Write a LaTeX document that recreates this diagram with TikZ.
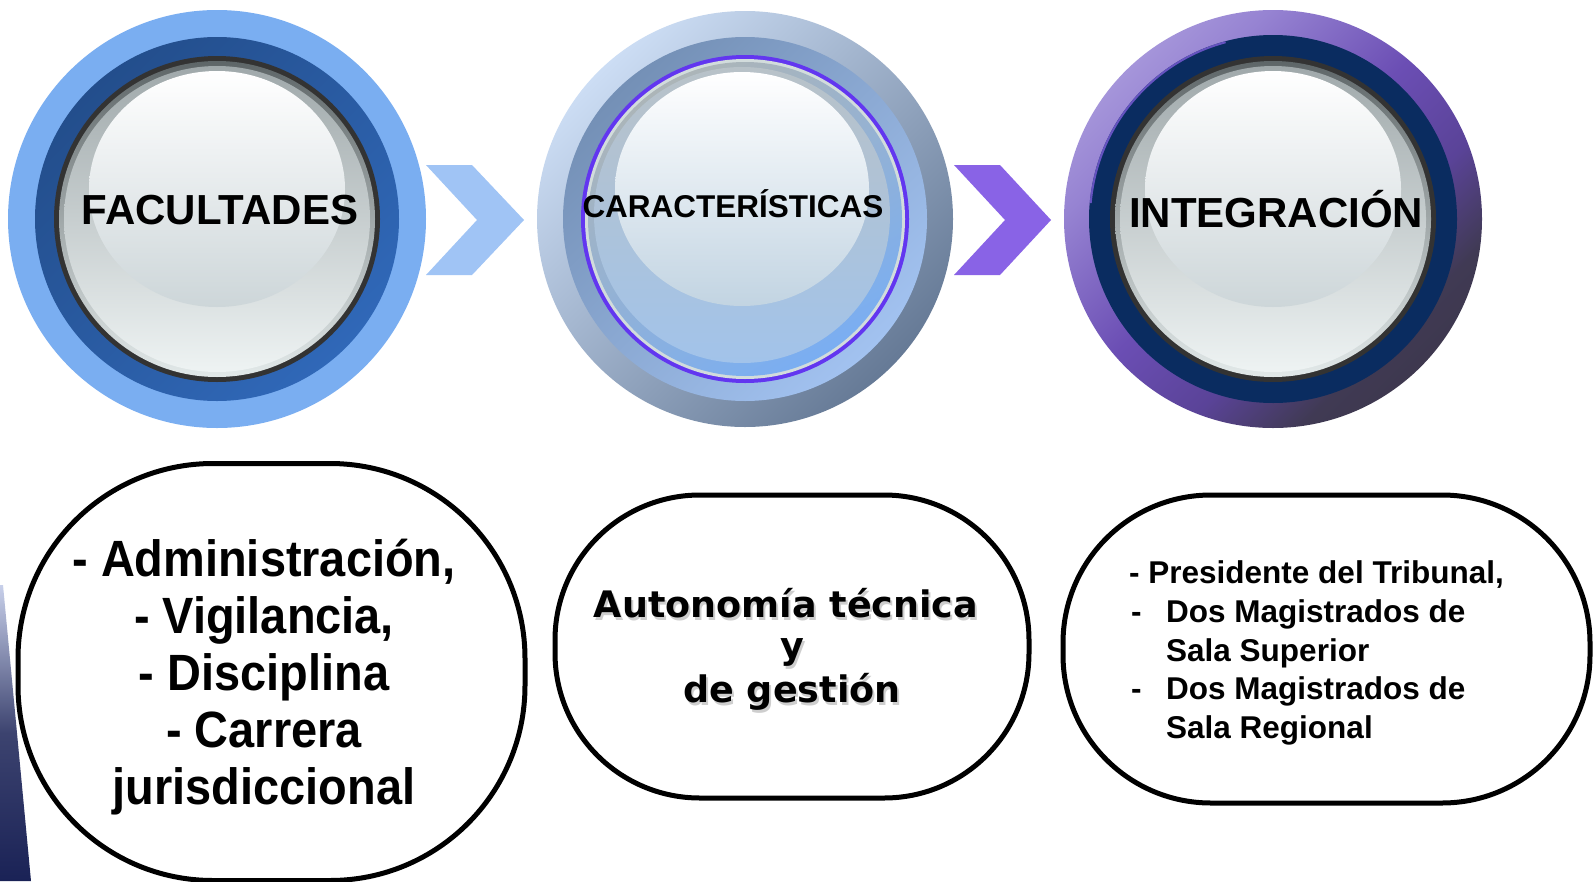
\documentclass[tikz,border=0pt]{standalone}
\usepackage{fontspec}
\setmainfont{Liberation Sans}
\newfontfamily\dejavu{DejaVu Sans}
\newfontfamily\narrowsans[FakeStretch=0.92]{Liberation Sans}
\definecolor{bluelight}{HTML}{7AAEF1}
\definecolor{ringAtl}{HTML}{234E8C}
\definecolor{ringAbr}{HTML}{3068B8}
\definecolor{chevA}{HTML}{A0C4F5}
\definecolor{chevB}{HTML}{8963E6}
\definecolor{outBtl}{HTML}{CCDDF4}
\definecolor{outBbr}{HTML}{667A96}
\definecolor{ringBtl}{HTML}{7490B6}
\definecolor{ringBbr}{HTML}{A2C2F0}
\definecolor{purpline}{HTML}{6236F0}
\definecolor{silverB}{HTML}{D2DCDC}
\definecolor{rimBtop}{HTML}{ACB5B8}
\definecolor{rimBbot}{HTML}{7AAEF2}
\definecolor{discBtop}{HTML}{B8C2C8}
\definecolor{discBbot}{HTML}{A2C3EA}
\definecolor{hlBbot}{HTML}{C2D4E2}
\definecolor{pc0}{HTML}{3A3546}
\definecolor{pc1}{HTML}{403A54}
\definecolor{pc2}{HTML}{5A4398}
\definecolor{pc3}{HTML}{6B4EB4}
\definecolor{pc4}{HTML}{9683D2}
\definecolor{pc5}{HTML}{B8ACE4}
\pgfdeclareverticalshading{purpC}{100bp}{color(0bp)=(pc0); color(17bp)=(pc0); color(30bp)=(pc1); color(40bp)=(pc2); color(52bp)=(pc3); color(68bp)=(pc4); color(84bp)=(pc5); color(100bp)=(pc5)}
\definecolor{navyC}{HTML}{0A2C60}
\definecolor{edgeC}{HTML}{7C5CD8}
\definecolor{darkring}{HTML}{333333}
\definecolor{rimdark}{HTML}{5E6668}
\definecolor{rimlight}{HTML}{E2E9E9}
\definecolor{disctop}{HTML}{A0A9AB}
\definecolor{discmid}{HTML}{CBD3D6}
\definecolor{discbot}{HTML}{EEF3F3}
\definecolor{hlbot}{HTML}{CDD6D9}
\definecolor{strip}{HTML}{1A2256}
\definecolor{striptop}{HTML}{C8D0EA}
\tikzset{
  glossy/.pic={
    \fill[darkring] (0,0) circle (163);
    \shade[top color=rimdark, bottom color=rimlight] (0,0) circle (158);
    \shade[top color=disctop, middle color=discmid, bottom color=discbot] (0,0) circle (153);
    \shade[top color=white, bottom color=hlbot] (0,-30) ellipse (128 and 118);
  },
  ttl/.style={anchor=base, font=\bfseries\fontsize{42}{42}\selectfont},
  boxshape/.style={draw=black, line width=5pt, fill=white, inner sep=0pt},
  bigline/.style={anchor=base, font=\narrowsans\bfseries\fontsize{51}{51}\selectfont},
  midline/.style={anchor=base, font=\dejavu\bfseries\fontsize{36.5}{36.5}\selectfont},
  smallline/.style={anchor=base west, inner sep=0pt, font=\bfseries\fontsize{31.5}{31.5}\selectfont},
}
\begin{document}
\begin{tikzpicture}[x=1pt,y=-1pt]
\useasboundingbox (0,0) rectangle (1595,881);
\fill[white] (0,0) rectangle (1595,881);

% left background sliver
\shade[top color=striptop, bottom color=strip, middle color=strip!85] (0,585) -- (3,585) -- (31,881) -- (0,881) -- cycle;

% ---- circle 1
\node[circle, minimum size=418pt, inner sep=0pt, fill=bluelight] (c1) at (217,219) {};
\shade[top color=ringAtl, bottom color=ringAbr, shading angle=45] (c1.center) circle (182);
\pic at (c1.center) {glossy};
\node[ttl] (t1) at (220,224) {FACULTADES};

% chevron 1
\fill[chevA] (426,165) -- (472,165) -- (524,220) -- (472,275) -- (426,275) -- (477,220) -- cycle;

% ---- circle 2
\node[circle, minimum size=416pt, inner sep=0pt, top color=outBtl, bottom color=outBbr, shading angle=45] (c2) at (745,219) {};
\shade[top color=ringBtl, bottom color=ringBbr, shading angle=45] (c2.center) circle (182);
\fill[purpline] (c2.center) circle (164);
\fill[silverB] (c2.center) circle (160);
\shade[top color=rimBtop, bottom color=rimBbot, shading angle=30] (c2.center) circle (157);
\shade[top color=discBtop, bottom color=discBbot] (742,215) circle (148);
\shade[top color=white, bottom color=hlBbot] (742,189) ellipse (127 and 117);
\node[anchor=base, font=\bfseries\fontsize{31.5}{31.5}\selectfont] (t2) at (733,217) {CARACTERÍSTICAS};

% chevron 2
\fill[chevB] (954,165) -- (1000,165) -- (1051,220) -- (1000,275) -- (954,275) -- (1005,220) -- cycle;

% ---- circle 3
\node[circle, minimum size=418pt, inner sep=0pt, shading=purpC, shading angle=45] (c3) at (1273,219) {};
\fill[navyC] (c3.center) circle (184);
\draw[edgeC, line width=2pt, opacity=0.8] ([shift={(185:183)}]c3.center) arc (185:255:183);
\pic at (c3.center) {glossy};
\node[ttl] (t3) at (1276,227) {INTEGRACIÓN};

% ---- bottom boxes
\node[boxshape, rounded corners=195pt, minimum width=507pt, minimum height=417pt] (b1) at (271.5,672) {};
\node[bigline] (l11) at (264,576) {- Administración,};
\node[bigline] (l12) at (264,633) {- Vigilancia,};
\node[bigline] (l13) at (264,690) {- Disciplina};
\node[bigline] (l14) at (264,747) {- Carrera};
\node[bigline] (l15) at (264,804) {jurisdiccional};

\node[boxshape, rounded corners=145pt, minimum width=474pt, minimum height=303pt] (b2) at (792,646.5) {};
\node[midline, text=black!35, opacity=0.55] (s21) at (788,620) {Autonomía técnica};
\node[midline, text=black!35, opacity=0.55] (s22) at (794,661) {y};
\node[midline, text=black!35, opacity=0.55] (s23) at (794,705) {de gestión};
\node[midline] (l21) at (786,617) {Autonomía técnica};
\node[midline] (l22) at (792,658) {y};
\node[midline] (l23) at (792,702) {de gestión};

\node[boxshape, rounded corners=148pt, minimum width=527pt, minimum height=308pt] (b3) at (1326.5,649) {};
\node[smallline] (l31) at (1129,583) {- Presidente del Tribunal,};
\node[smallline] (d32) at (1131,622) {-};
\node[smallline] (l32) at (1166,622) {Dos Magistrados de};
\node[smallline] (l33) at (1166,661) {Sala Superior};
\node[smallline] (d34) at (1131,699) {-};
\node[smallline] (l34) at (1166,699) {Dos Magistrados de};
\node[smallline] (l35) at (1166,738) {Sala Regional};
\end{tikzpicture}
\end{document}
